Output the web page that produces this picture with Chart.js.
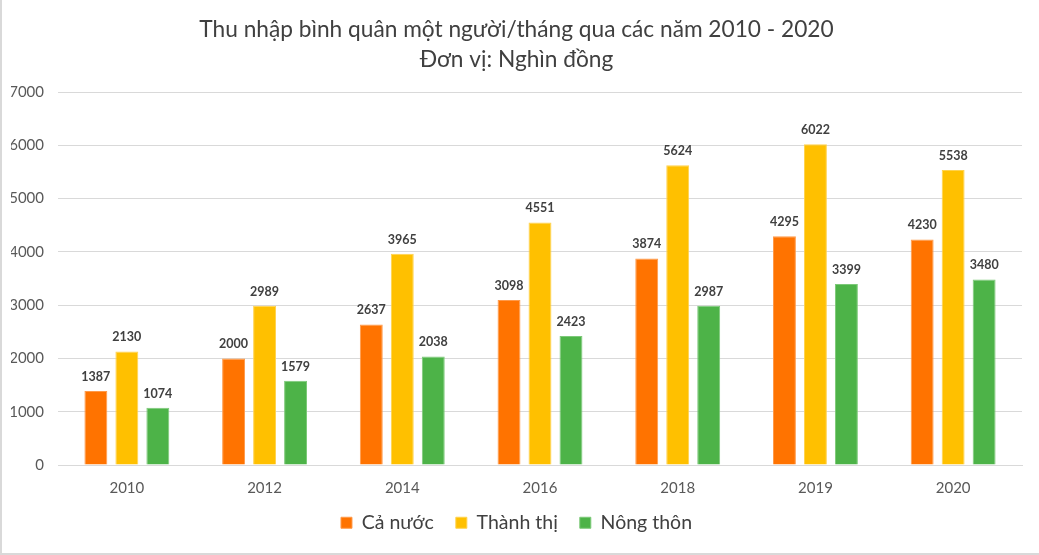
<!DOCTYPE html>
<html>
<head>
<meta charset="utf-8">
<script src="https://cdn.jsdelivr.net/npm/chart.js@4/dist/chart.umd.min.js"></script>
<style>
    html, body { margin: 0; padding: 0; background: #fff; }
    #wrap { width: 1039px; height: 555px; position: relative; box-sizing: border-box;
            border-left: 2px solid #d9d9d9; border-bottom: 2px solid #d9d9d9; }
</style>
</head>
<body>
<div id="wrap"><canvas id="incomeChart"></canvas></div>
<script>
const years = ["2010", "2012", "2014", "2016", "2018", "2019", "2020"];
const caNuoc = [1387, 2000, 2637, 3098, 3874, 4295, 4230];
const thanhThi = [2130, 2989, 3965, 4551, 5624, 6022, 5538];
const nongThon = [1074, 1579, 2038, 2423, 2987, 3399, 3480];

const fontName = "Lato, 'Noto Sans', sans-serif";

// labels above bars
const valueLabels = {
    id: "valueLabels",
    afterDatasetsDraw(chart) {
        const ctx = chart.ctx;
        ctx.save();
        ctx.font = "bold 12.5px " + fontName;
        ctx.fillStyle = "#404040";
        ctx.textAlign = "center";
        ctx.textBaseline = "bottom";
        chart.data.datasets.forEach((ds, i) => {
            chart.getDatasetMeta(i).data.forEach((bar, j) => {
                ctx.fillText(ds.data[j], bar.x, bar.y - 8);
            });
        });
        ctx.restore();
    }
};

// legend box is shorter than default, items drawn a bit higher, so the x labels get room
const tightLegend = {
    id: "tightLegend",
    afterInit(chart) {
        const legend = chart.legend;
        const fit = legend.fit;
        const draw = legend.draw;
        legend.fit = function () { fit.call(this); this.height = 34; };
        legend.draw = function () {
            const top = this.top;
            this.top = top - 12;
            draw.call(this);
            this.top = top;
        };
    }
};

const bar = (label, data, color, border) => ({
    label: label,
    data: data,
    backgroundColor: color,
    borderColor: border,
    borderWidth: 1,
    categoryPercentage: 0.675,
    barPercentage: 0.74
});

new Chart(document.getElementById("incomeChart").getContext("2d"), {
    type: "bar",
    data: {
        labels: years,
        datasets: [
            bar("Cả nước", caNuoc, "#FF7300", "#FF9a4a"),
            bar("Thành thị", thanhThi, "#FFC000", "#FFd24d"),
            bar("Nông thôn", nongThon, "#4DB348", "#7cc978")
        ]
    },
    options: {
        responsive: true,
        maintainAspectRatio: false,
        animation: false,
        layout: {padding: {left: 9, right: 17, top: 8, bottom: 16}},
        plugins: {
            title: {
                display: true,
                text: ["Thu nhập bình quân một người/tháng qua các năm 2010 - 2020", "Đơn vị: Nghìn đồng"],
                color: "#404040",
                font: {family: fontName, size: 22.7, weight: "normal", lineHeight: 1.3},
                padding: {top: 7, bottom: 18}
            },
            legend: {
                position: "bottom",
                labels: {
                    color: "#404040",
                    font: {family: fontName, size: 19.5},
                    boxWidth: 11,
                    boxHeight: 11,
                    padding: 22
                }
            },
            tooltip: {enabled: false}
        },
        scales: {
            x: {
                grid: {display: false},
                border: {color: "#d9d9d9"},
                ticks: {color: "#595959", font: {family: fontName, size: 15}, padding: 6}
            },
            y: {
                min: 0,
                max: 7000,
                ticks: {stepSize: 1000, color: "#595959", font: {family: fontName, size: 15}, padding: 14,
                        callback: v => String(v)},
                grid: {color: "#d9d9d9", drawTicks: false},
                border: {display: false},
                afterFit: scale => { scale.width = 47; }
            }
        }
    },
    plugins: [valueLabels, tightLegend]
});
</script>
</body>
</html>
